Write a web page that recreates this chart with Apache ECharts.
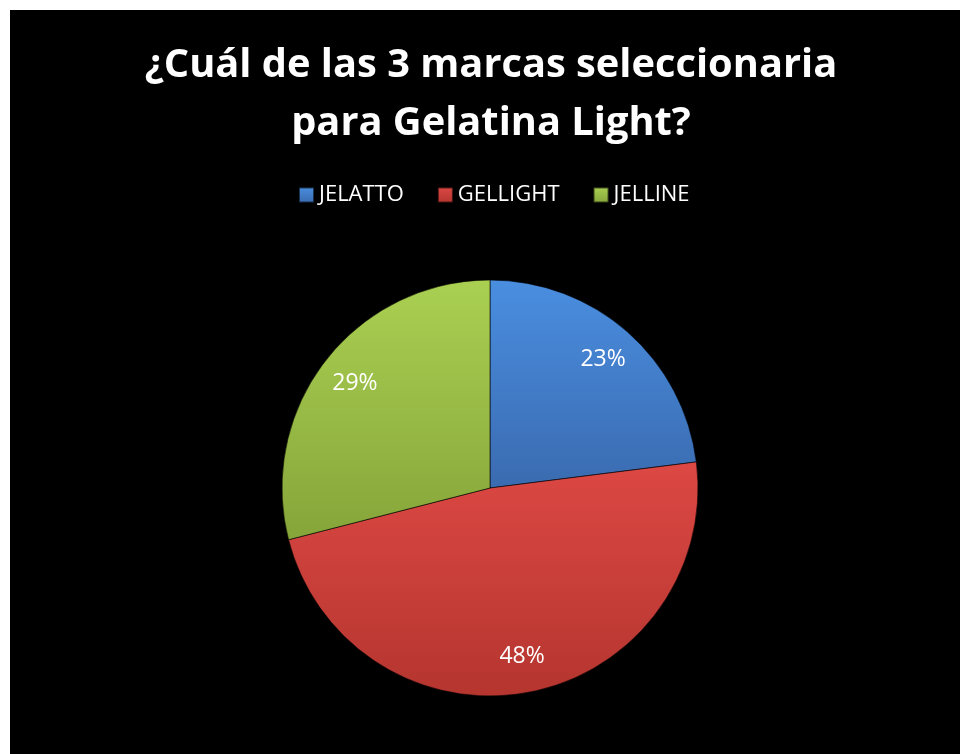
<!DOCTYPE html>
<html>
<head>
<meta charset="utf-8">
<script src="https://cdn.jsdelivr.net/npm/echarts@6/dist/echarts.min.js"></script>
<style>
html,body{margin:0;padding:0;background:#fff;width:960px;height:754px;overflow:hidden;}
#c{position:absolute;left:10px;top:10px;width:950px;height:744px;}
</style>
</head>
<body>
<div id="c"></div>
<script>
const titleText = '¿Cuál de las 3 marcas seleccionaria\npara Gelatina Light?';
const categories = ['JELATTO', 'GELLIGHT', 'JELLINE'];
const values = [23, 48, 29];
const palette = [
  ['#4a8ee0', '#3a6bb0'],
  ['#dd4844', '#b5352f'],
  ['#aad052', '#86a53a']
];

const chart = echarts.init(document.getElementById('c'), null, {renderer: 'canvas'});

function grad(i) {
  return new echarts.graphic.LinearGradient(0, 0, 0, 1, [
    {offset: 0, color: palette[i][0]},
    {offset: 1, color: palette[i][1]}
  ]);
}

const mainData = categories.map((n, i) => ({
  name: n, value: values[i],
  itemStyle: {color: grad(i)}
}));
const labelData = categories.map((n, i) => ({name: n, value: values[i]}));

chart.setOption({
  backgroundColor: '#000',
  animation: false,
  color: palette.map(p => p[0]),
  title: {
    text: titleText,
    left: 476,
    top: 22,
    textAlign: 'center',
    textStyle: {
      color: '#fff',
      fontFamily: 'Open Sans',
      fontWeight: 'bold',
      fontSize: 39.8,
      lineHeight: 58
    }
  },
  legend: {
    data: categories,
    top: 169,
    left: 283,
    icon: 'rect',
    itemWidth: 15,
    itemHeight: 15,
    itemGap: 33,
    selectedMode: false,
    textStyle: {color: '#fff', fontFamily: 'Open Sans', fontSize: 22}
  },
  series: [
    {
      type: 'pie',
      center: [480, 478],
      radius: [0, 208],
      startAngle: 90,
      clockwise: true,
      silent: true,
      label: {show: false},
      labelLine: {show: false},
      itemStyle: {borderColor: 'rgba(0,0,0,0.6)', borderWidth: 1},
      data: mainData
    },
    {
      type: 'pie',
      center: [480, 478],
      radius: [128, 208],
      startAngle: 90,
      clockwise: true,
      silent: true,
      itemStyle: {color: 'rgba(0,0,0,0)', borderWidth: 0},
      label: {
        show: true,
        position: 'inside',
        formatter: p => p.value + '%',
        color: '#fff',
        fontFamily: 'Open Sans',
        fontSize: 23
      },
      labelLine: {show: false},
      data: labelData
    }
  ]
});
</script>
</body>
</html>
